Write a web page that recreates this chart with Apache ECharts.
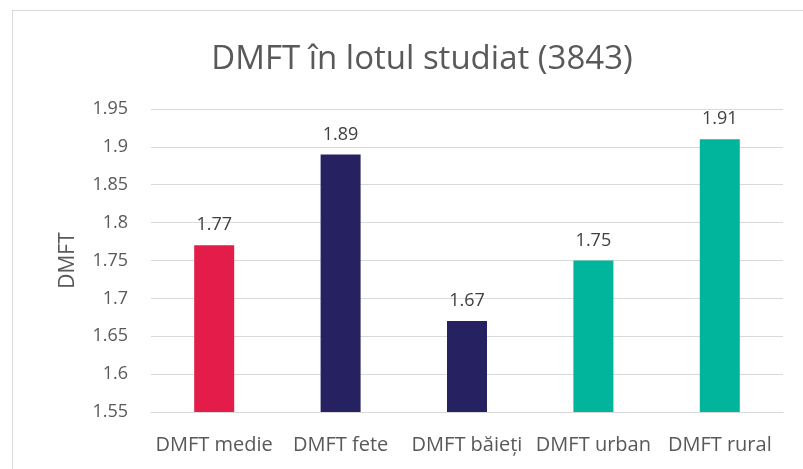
<!DOCTYPE html>
<html>
<head>
<meta charset="utf-8">
<script src="https://cdn.jsdelivr.net/npm/echarts@6/dist/echarts.min.js"></script>
<style>
  html, body { margin: 0; padding: 0; background: #fff; }
  #frame { position: absolute; left: 12px; top: 10px; width: 800px; height: 470px;
           border-left: 1px solid #d9d9d9; border-top: 1px solid #d9d9d9; }
  #chart { position: absolute; left: 0; top: 0; width: 803px; height: 469px; }
</style>
</head>
<body>
<div id="frame"></div>
<div id="chart"></div>
<script>
// date
const categories = ['DMFT medie', 'DMFT fete', 'DMFT băieți', 'DMFT urban', 'DMFT rural'];
const values = [1.77, 1.89, 1.67, 1.75, 1.91];
const barColors = ['#e31c4a', '#262262', '#262262', '#00b59c', '#00b59c'];
const yMin = 1.55, yMax = 1.95, yStep = 0.05;

let myChart = echarts.init(document.getElementById('chart'));
let txt = '#595959';

let option = {
  animation: false,
  title: {
    text: 'DMFT în lotul studiat (3843)',
    left: 417,
    top: 38,
    textAlign: 'center',
    textStyle: { color: txt, fontSize: 33, fontWeight: 'normal', fontFamily: 'Open Sans' }
  },
  grid: { left: 151, right: 20, top: 109, bottom: 57 },
  xAxis: {
    type: 'category',
    data: categories,
    axisLine: { lineStyle: { color: '#d9d9d9' } },
    axisTick: { show: false },
    axisLabel: { color: txt, fontSize: 20, margin: 23, fontFamily: 'Open Sans', interval: 0 }
  },
  yAxis: {
    type: 'value',
    min: yMin, max: yMax, interval: yStep,
    name: 'DMFT',
    nameLocation: 'middle',
    nameGap: 72,
    nameTextStyle: { color: txt, fontSize: 21, fontFamily: 'Open Sans' },
    axisLine: { show: false },
    axisTick: { show: false },
    splitLine: { lineStyle: { color: '#d9d9d9' } },
    axisLabel: {
      color: txt, fontSize: 18, margin: 23, fontFamily: 'Open Sans',
      formatter: v => String(parseFloat(v.toFixed(2)))
    }
  },
  series: [{
    type: 'bar',
    barWidth: 40,
    data: values.map((v, i) => ({ value: v, itemStyle: { color: barColors[i] } })),
    label: {
      show: true, position: 'top', distance: 11,
      color: '#404040', fontSize: 18, fontFamily: 'Open Sans'
    }
  }]
};
myChart.setOption(option);
</script>
</body>
</html>
